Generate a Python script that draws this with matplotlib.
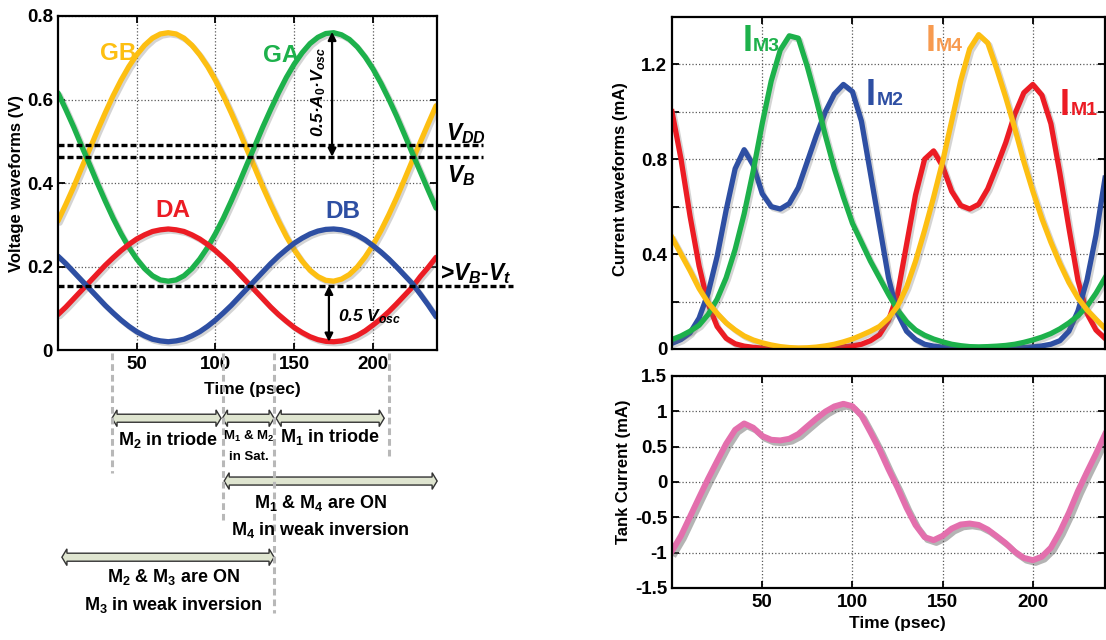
import numpy as np
import matplotlib
matplotlib.use("Agg")
import matplotlib.pyplot as plt
import matplotlib.patheffects as pe
import matplotlib.transforms as mtrans
from matplotlib import font_manager
from matplotlib.patches import Polygon

# police étroite si elle existe, sinon Liberation Sans
noms = {f.name for f in font_manager.fontManager.ttflist}
FONTE = "Liberation Sans Narrow" if "Liberation Sans Narrow" in noms else "Liberation Sans"

plt.rcParams["font.family"] = [FONTE, "DejaVu Sans"]
plt.rcParams["font.weight"] = "bold"
plt.rcParams["axes.labelweight"] = "bold"
plt.rcParams["mathtext.fontset"] = "custom"
plt.rcParams["mathtext.rm"] = FONTE + ":bold"
plt.rcParams["mathtext.it"] = FONTE + ":italic:bold"
plt.rcParams["mathtext.bf"] = FONTE + ":bold"

# ---------------- données ----------------
temps = [0, 5, 10, 15, 20, 25, 30, 35, 40, 45, 50, 55, 60, 65, 70, 75, 80, 85, 90, 95,
         100, 105, 110, 115, 120, 125, 130, 135, 140, 145, 150, 155, 160, 165, 170, 175,
         180, 185, 190, 195, 200, 205, 210, 215, 220, 225, 230, 235, 240]

# tensions (V)
GB = [0.309, 0.349, 0.391, 0.436, 0.480, 0.525, 0.568, 0.609, 0.646, 0.679, 0.707, 0.730,
      0.747, 0.757, 0.760, 0.757, 0.747, 0.730, 0.707, 0.679, 0.646, 0.609, 0.568, 0.525,
      0.480, 0.436, 0.391, 0.349, 0.309, 0.272, 0.240, 0.213, 0.191, 0.176, 0.167, 0.165,
      0.170, 0.181, 0.199, 0.223, 0.252, 0.286, 0.324, 0.365, 0.409, 0.454, 0.498, 0.542, 0.585]
GA = [0.616, 0.576, 0.534, 0.489, 0.445, 0.400, 0.357, 0.316, 0.279, 0.246, 0.218, 0.195,
      0.178, 0.168, 0.165, 0.168, 0.178, 0.195, 0.218, 0.246, 0.279, 0.316, 0.357, 0.400,
      0.445, 0.489, 0.534, 0.576, 0.616, 0.653, 0.685, 0.712, 0.734, 0.749, 0.758, 0.760,
      0.755, 0.744, 0.726, 0.702, 0.673, 0.639, 0.601, 0.560, 0.516, 0.471, 0.427, 0.383, 0.340]
DA = [0.085, 0.103, 0.123, 0.143, 0.163, 0.183, 0.203, 0.221, 0.238, 0.253, 0.266, 0.276,
      0.284, 0.288, 0.290, 0.288, 0.284, 0.276, 0.266, 0.253, 0.238, 0.221, 0.203, 0.183,
      0.163, 0.143, 0.123, 0.103, 0.085, 0.069, 0.054, 0.042, 0.032, 0.025, 0.021, 0.020,
      0.022, 0.027, 0.035, 0.046, 0.060, 0.075, 0.092, 0.111, 0.131, 0.151, 0.176, 0.198, 0.222]
DB = [0.225, 0.207, 0.187, 0.167, 0.147, 0.127, 0.107, 0.089, 0.072, 0.057, 0.044, 0.034,
      0.026, 0.022, 0.020, 0.022, 0.026, 0.034, 0.044, 0.057, 0.072, 0.089, 0.107, 0.127,
      0.147, 0.167, 0.187, 0.207, 0.225, 0.241, 0.256, 0.268, 0.278, 0.285, 0.289, 0.290,
      0.288, 0.283, 0.275, 0.264, 0.250, 0.235, 0.218, 0.199, 0.179, 0.159, 0.134, 0.108, 0.080]

# courants (mA)
IM1 = [1.0, 0.80, 0.56, 0.35, 0.19, 0.095, 0.045, 0.022, 0.012, 0.007, 0.004, 0.003,
       0.002, 0.002, 0.002, 0.002, 0.003, 0.004, 0.006, 0.009, 0.013, 0.02, 0.035, 0.06,
       0.12, 0.23, 0.44, 0.65, 0.80, 0.835, 0.77, 0.665, 0.605, 0.59, 0.61, 0.675,
       0.77, 0.87, 0.99, 1.08, 1.115, 1.07, 0.95, 0.74, 0.51, 0.29, 0.15, 0.08, 0.045]
IM2 = [0.024, 0.04, 0.068, 0.13, 0.235, 0.39, 0.585, 0.76, 0.84, 0.775, 0.655, 0.60,
       0.59, 0.613, 0.68, 0.79, 0.90, 1.00, 1.075, 1.115, 1.085, 0.96, 0.74, 0.52,
       0.30, 0.15, 0.075, 0.04, 0.02, 0.012, 0.008, 0.005, 0.003, 0.002, 0.002, 0.002,
       0.002, 0.003, 0.004, 0.006, 0.009, 0.013, 0.02, 0.035, 0.075, 0.16, 0.29, 0.48, 0.72]
IM3 = [0.04, 0.055, 0.075, 0.10, 0.145, 0.21, 0.30, 0.42, 0.57, 0.75, 0.95, 1.13,
       1.26, 1.32, 1.31, 1.19, 1.05, 0.90, 0.76, 0.64, 0.53, 0.45, 0.37, 0.30,
       0.23, 0.165, 0.115, 0.08, 0.058, 0.042, 0.03, 0.02, 0.014, 0.01, 0.009, 0.01,
       0.012, 0.015, 0.02, 0.028, 0.038, 0.05, 0.065, 0.085, 0.11, 0.14, 0.18, 0.235, 0.30]
IM4 = [0.47, 0.40, 0.33, 0.255, 0.195, 0.15, 0.11, 0.08, 0.055, 0.038, 0.026, 0.017,
       0.01, 0.006, 0.004, 0.005, 0.008, 0.013, 0.02, 0.03, 0.042, 0.058, 0.075, 0.095,
       0.13, 0.18, 0.26, 0.37, 0.50, 0.64, 0.79, 0.96, 1.13, 1.265, 1.325, 1.29,
       1.18, 1.06, 0.93, 0.79, 0.665, 0.55, 0.45, 0.36, 0.28, 0.215, 0.165, 0.125, 0.087]
tank = [-0.976, -0.76, -0.49, -0.22, 0.045, 0.295, 0.54, 0.738, 0.828, 0.768, 0.651, 0.597,
        0.588, 0.611, 0.678, 0.788, 0.897, 0.996, 1.069, 1.106, 1.072, 0.94, 0.705, 0.46,
        0.18, -0.08, -0.365, -0.61, -0.78, -0.823, -0.762, -0.66, -0.602, -0.588, -0.608, -0.673,
        -0.768, -0.867, -0.986, -1.074, -1.106, -1.057, -0.93, -0.705, -0.435, -0.13, 0.14, 0.40, 0.675]

# niveaux de référence (V)
VDD = 0.49
VB = 0.463
VB_Vt = 0.154

# limites des régions de fonctionnement (psec)
limites = [34, 105, 137, 210]

ROUGE = "#ec1c24"
BLEU = "#2e4fa3"
VERT = "#1db14b"
JAUNE = "#fdbf12"
ORANGE = "#f79a4f"
ROSE = "#e36fad"

TICK = 13.5
LABEL = 12

ombre = [pe.SimpleLineShadow(offset=(1.5, -1.5), shadow_color="0.45", alpha=0.3), pe.Normal()]


def style_axes(ax):
    for s in ax.spines.values():
        s.set_linewidth(1.6)
    ax.tick_params(direction="in", top=True, right=True, length=5, width=1.3,
                   labelsize=TICK, pad=4)
    ax.tick_params(axis="y", pad=3.5)
    ax.grid(True, ls=":", color="0.35", lw=0.9)


fig = plt.figure(figsize=(11.06, 6.4), dpi=100)

# ---------------- tensions ----------------
ax1 = fig.add_axes([0.0524, 0.453, 0.343, 0.522])
ax1.plot(temps, GB, color=JAUNE, lw=3.8, path_effects=ombre, solid_capstyle="round")
ax1.plot(temps, GA, color=VERT, lw=3.8, path_effects=ombre, solid_capstyle="round")
ax1.plot(temps, DA, color=ROUGE, lw=3.8, path_effects=ombre, solid_capstyle="round")
ax1.plot(temps, DB, color=BLEU, lw=3.8, path_effects=ombre, solid_capstyle="round")
ax1.set_xlim(0, 240.8)
ax1.set_ylim(0, 0.8)
ax1.set_xticks([50, 100, 150, 200])
ax1.set_yticks([0, 0.2, 0.4, 0.6, 0.8])
ax1.set_yticklabels(["0", "0.2", "0.4", "0.6", "0.8"])
style_axes(ax1)
ax1.set_xlabel("Time (psec)", fontsize=LABEL + 0.5)
ax1.xaxis.set_label_coords(0.512, -0.097)
ax1.set_ylabel("Voltage waveforms (V)", fontsize=LABEL)
ax1.yaxis.set_label_coords(-0.09, 0.5)

for niv, fin in [(VDD, 1.12), (VB, 1.12), (VB_Vt, 1.2)]:
    ax1.axhline(niv, xmin=0, xmax=fin, color="k", lw=2.4, dashes=(1.8, 0.9),
                clip_on=False, zorder=4)

ax1.text(27, 0.695, "GB", color=JAUNE, fontsize=17.5)
ax1.text(130, 0.69, "GA", color=VERT, fontsize=17.5)
ax1.text(62, 0.319, "DA", color=ROUGE, fontsize=17.5)
ax1.text(170, 0.316, "DB", color=BLEU, fontsize=17.5)

ax1.annotate("", xy=(174, VB), xytext=(174, 0.762),
             arrowprops=dict(arrowstyle="<|-|>", color="k", lw=1.6, mutation_scale=12,
                             shrinkA=0, shrinkB=0))
ax1.annotate("", xy=(172, 0.02), xytext=(172, VB_Vt),
             arrowprops=dict(arrowstyle="<|-|>", color="k", lw=1.6, mutation_scale=12,
                             shrinkA=0, shrinkB=0))
ax1.text(165.5, 0.618, r"0.5·$A_0$·$V_{osc}$", rotation=90, style="italic",
         ha="center", va="center", fontsize=12.5)
ax1.text(177.5, 0.068, r"0.5 $V_{osc}$", style="italic", fontsize=12.5)
ax1.text(246, 0.503, r"$V_{DD}$", fontsize=16.5, clip_on=False)
ax1.text(247, 0.403, r"$V_B$", fontsize=16.5, clip_on=False)
ax1.text(242.5, 0.168, r">$V_B$-$V_t$", fontsize=16.5, clip_on=False)

# régions de fonctionnement sous l'axe
trans = mtrans.blended_transform_factory(ax1.transData, ax1.transAxes)
bas_lignes = [-0.368, -0.509, -0.787, -0.32]
for b, yb in zip(limites, bas_lignes):
    ax1.plot([b, b], [-0.01, yb], transform=trans, clip_on=False, color="#b8b8b8",
             lw=2.2, dashes=(2.2, 1.3))


def fleche_double(x0, x1, y):
    tete = 3.2
    c, h = 0.012, 0.025
    pts = [(x0, y), (x0 + tete, y + h), (x0 + tete, y + c), (x1 - tete, y + c),
           (x1 - tete, y + h), (x1, y), (x1 - tete, y - h), (x1 - tete, y - c),
           (x0 + tete, y - c), (x0 + tete, y - h)]
    ax1.add_patch(Polygon(pts, closed=True, transform=trans, clip_on=False,
                          facecolor="#dfe5d0", edgecolor="#333333", lw=1.0))


fleche_double(34.3, 103.5, -0.204)
fleche_double(104.4, 137.2, -0.204)
fleche_double(138.5, 207.1, -0.204)
fleche_double(105.5, 240.7, -0.392)
fleche_double(2.5, 137.2, -0.62)

kw = dict(transform=trans, ha="center", va="center")
ax1.text(70, -0.27, r"M$_2$ in triode", fontsize=13, **kw)
ax1.text(121, -0.258, r"M$_1$ & M$_2$", fontsize=9.5, **kw)
ax1.text(121.5, -0.32, "in Sat.", fontsize=9.5, **kw)
ax1.text(172.5, -0.26, r"M$_1$ in triode", fontsize=13, **kw)
ax1.text(166.5, -0.458, r"M$_1$ & M$_4$ are ON", fontsize=13, **kw)
ax1.text(166.5, -0.54, r"M$_4$ in weak inversion", fontsize=13, **kw)
ax1.text(73.5, -0.68, r"M$_2$ & M$_3$ are ON", fontsize=13, **kw)
ax1.text(73.5, -0.763, r"M$_3$ in weak inversion", fontsize=13, **kw)

# ---------------- courants ----------------
ax2 = fig.add_axes([0.6076, 0.4547, 0.3915, 0.519])
ax2.plot(temps, IM1, color=ROUGE, lw=3.8, path_effects=ombre, solid_joinstyle="round")
ax2.plot(temps, IM2, color=BLEU, lw=3.8, path_effects=ombre, solid_joinstyle="round")
ax2.plot(temps, IM3, color=VERT, lw=3.8, path_effects=ombre, solid_joinstyle="round")
ax2.plot(temps, IM4, color=JAUNE, lw=3.8, path_effects=ombre, solid_joinstyle="round")
ax2.set_xlim(0, 240)
ax2.set_ylim(0, 1.4)
ax2.set_xticks([50, 100, 150, 200])
ax2.set_xticklabels([])
ax2.set_yticks([0, 0.2, 0.4, 0.6, 0.8, 1.0, 1.2])
ax2.set_yticklabels(["0", "", "0.4", "", "0.8", "", "1.2"])
style_axes(ax2)
ax2.set_ylabel("Current waveforms (mA)", fontsize=LABEL)
ax2.yaxis.set_label_coords(-0.1016, 0.512)

for xi, yb, sub, col in [(39.0, 1.254, "M3", VERT), (140.4, 1.254, "M4", ORANGE),
                         (107.4, 1.03, "M2", BLEU), (215.0, 0.988, "M1", ROUGE)]:
    ax2.text(xi, yb, "I", color=col, fontsize=26)
    ax2.annotate(sub, xy=(xi, yb), xytext=(7.6, 0), textcoords="offset points",
                 color=col, fontsize=14, va="baseline")

# ---------------- courant du résonateur ----------------
ax3 = fig.add_axes([0.6076, 0.08125, 0.3915, 0.3313])
ax3.plot(temps, tank, color=ROSE, lw=4.3, solid_joinstyle="round",
         path_effects=[pe.SimpleLineShadow(offset=(2, -2), shadow_color="0.35", alpha=0.45),
                       pe.Normal()])
ax3.set_xlim(0, 240)
ax3.set_ylim(-1.5, 1.5)
ax3.set_xticks([50, 100, 150, 200])
ax3.set_yticks([-1.5, -1, -0.5, 0, 0.5, 1, 1.5])
ax3.set_yticklabels(["-1.5", "-1", "-0.5", "0", "0.5", "1", "1.5"])
style_axes(ax3)
ax3.set_xlabel("Time (psec)", fontsize=LABEL + 0.5)
ax3.xaxis.set_label_coords(0.52, -0.133)
ax3.set_ylabel("Tank Current (mA)", fontsize=LABEL)
ax3.yaxis.set_label_coords(-0.095, 0.547)

fig.savefig("out.png", dpi=100)
